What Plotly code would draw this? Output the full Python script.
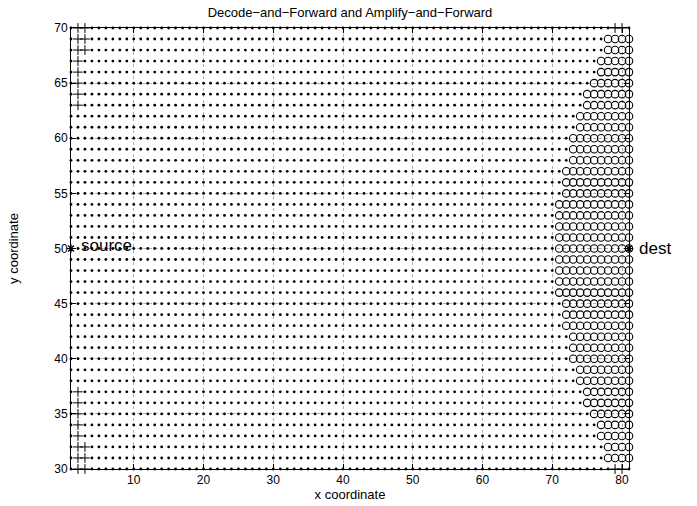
import plotly.graph_objects as go

# ---- data ----
rows = list(range(30, 71))                 # y coordinates of the grid rows
x_min, x_max = 1, 81                       # grid columns run 1..81
# leftmost x of the 'o' (Amplify-and-Forward) run in each row, None = no circles
af_first_x = [None, 78, 78, 77, 77, 76, 75, 75, 74, 74, 73, 73, 73, 72, 72, 72,
              71, 71, 71, 71, 71, 71, 71, 71, 71,
              72, 72, 72, 73, 73, 73, 74, 74, 75, 75, 76, 77, 77, 78, 78, None]
# number of '+' (Decode-and-Forward) columns at the left, starting at x=2
df_left_count = [2, 2, 2, 1, 1, 1, 1, 1, 0, 0, 0, 0, 0, 0, 0, 0, 0, 0, 0, 0, 0,
                 0, 0, 0, 0, 0, 0, 0, 0, 0, 0, 0, 0, 1, 1, 1, 1, 1, 2, 2, 2]
# extra '+' points at the right corners
df_right_x = [79, 80]
df_right_rows = [30, 70]
source_xy = (1, 50)
dest_xy = (81, 50)
x_ticks = [10, 20, 30, 40, 50, 60, 70, 80]
y_ticks = [30, 35, 40, 45, 50, 55, 60, 65, 70]

# ---- classify grid points ----
dot_x, dot_y, plus_x, plus_y, circ_x, circ_y = [], [], [], [], [], []
for y, af0, ndf in zip(rows, af_first_x, df_left_count):
    for x in range(x_min, x_max + 1):
        if (x, y) == source_xy:
            continue
        if af0 is not None and x >= af0:
            circ_x.append(x); circ_y.append(y)
        elif 2 <= x < 2 + ndf:
            plus_x.append(x); plus_y.append(y)
        elif y in df_right_rows and x in df_right_x:
            plus_x.append(x); plus_y.append(y)
        else:
            dot_x.append(x); dot_y.append(y)

FONT = "Liberation Sans, Arial, Helvetica, sans-serif"
fig = go.Figure()
fig.add_trace(go.Scatter(x=dot_x, y=dot_y, mode="markers", cliponaxis=False,
                         marker=dict(symbol="circle", size=2.8, color="black",
                                     line=dict(width=0))))
fig.add_trace(go.Scatter(x=plus_x, y=plus_y, mode="markers", cliponaxis=False,
                         marker=dict(symbol="cross-thin-open", size=7, color="black",
                                     line=dict(width=1, color="black"))))
fig.add_trace(go.Scatter(x=circ_x, y=circ_y, mode="markers", cliponaxis=False,
                         marker=dict(symbol="circle-open", size=7.5, color="black",
                                     line=dict(width=1.1, color="black"))))
fig.add_trace(go.Scatter(x=[source_xy[0], dest_xy[0]], y=[source_xy[1], dest_xy[1]],
                         mode="markers", cliponaxis=False,
                         marker=dict(symbol="asterisk-open", size=7, color="black",
                                     line=dict(width=1.2, color="black"))))

fig.add_annotation(x=source_xy[0], y=source_xy[1], text="source", showarrow=False,
                   xanchor="left", yanchor="middle", xshift=8, yshift=3,
                   font=dict(family=FONT, size=17, color="black"))
fig.add_annotation(x=dest_xy[0], y=dest_xy[1], text="dest", showarrow=False,
                   xanchor="left", yanchor="middle", xshift=8, yshift=0,
                   font=dict(family=FONT, size=17, color="black"))

axis_common = dict(showline=True, linecolor="black", linewidth=1, mirror="allticks",
                   ticks="inside", ticklen=5, tickcolor="black", tickwidth=1,
                   showgrid=True, gridcolor="#b0b0b0", gridwidth=1, griddash="dot",
                   zeroline=False, automargin=False,
                   tickfont=dict(family=FONT, size=12, color="black"))
fig.update_xaxes(range=[x_min, x_max], tickvals=x_ticks,
                 title=dict(text="x coordinate", standoff=2,
                            font=dict(family=FONT, size=13, color="black")),
                 **axis_common)
fig.update_yaxes(range=[30, 70], tickvals=y_ticks,
                 title=dict(text="y coordinate", standoff=32,
                            font=dict(family=FONT, size=13, color="black")),
                 **axis_common)
fig.update_layout(
    width=697, height=506,
    margin=dict(l=71, r=68, t=28, b=37, autoexpand=False),
    paper_bgcolor="white", plot_bgcolor="white", showlegend=False,
    title=dict(text="Decode−and−Forward and Amplify−and−Forward",
               x=0.5, xref="paper", y=1 - 12 / 506, yanchor="middle",
               font=dict(family=FONT, size=13, color="black")),
)
# remove the browser's default 8px body margin so the figure sits at the page origin
fig.write_html("out.html", config={"displayModeBar": False},
               post_script="document.body.style.margin='0';document.body.style.overflow='hidden';")
